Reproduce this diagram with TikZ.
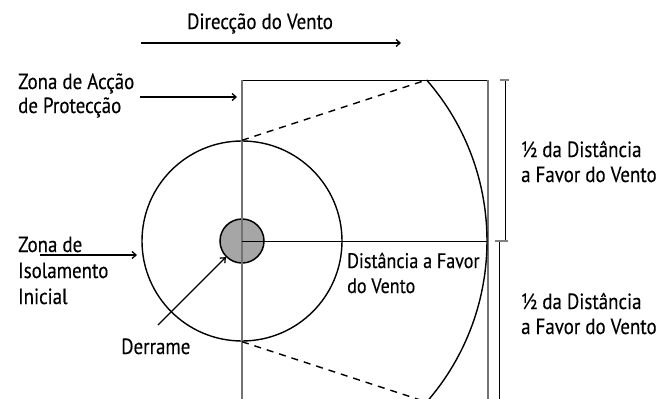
\documentclass[tikz,border=0pt]{standalone}
\usepackage{fontspec}
\setmainfont{PT Sans}[FakeStretch=0.86,FakeBold=0.25]
\usetikzlibrary{arrows.meta}
\begin{document}
\begin{tikzpicture}[x=1pt,y=-1pt,
  lbl/.style={anchor=base west,inner sep=0pt,font=\fontsize{22}{26}\selectfont},
  blk/.style={line width=1.4pt,black},
  thinblk/.style={line width=1pt,black},
  axis/.style={line width=1.4pt,black!55},
  arr/.style={line width=1.3pt,black,-{Straight Barb[length=4pt,width=7pt]}},
  dimln/.style={line width=1pt,black},
  tick/.style={line width=1.3pt,black!50},
]
\useasboundingbox (0,0) rectangle (662,399);
\begin{scope}
\clip (0,0) rectangle (662,399);
\coordinate (C) at (242,241);
% spill and isolation circle
\node[draw,circle,fill=black!35,minimum size=44pt,inner sep=0pt,line width=1.5pt] (spill) at (C) {};
\node[draw,circle,minimum size=200pt,inner sep=0pt,line width=1.4pt] (iso) at (C) {};
% protective action zone outline
\coordinate (rTL) at (242,80);
\coordinate (rTR) at (488,80);
\coordinate (rBL) at (242,410);
\coordinate (rBR) at (488,410);
\draw[thinblk] (rTL) -- (rTR);
\draw[axis] (rTL) -- (rBL);
\draw[axis] (rTR) -- (rBR);
% downwind arc
\path (C) ++(-41.1:245) coordinate (arcT);
\path (C) ++(41.1:245) coordinate (arcB);
\path (C) ++(0:245) coordinate (arcR);
\draw[blk] (arcT) arc[start angle=-41.1,end angle=41.1,radius=245];
\draw[thinblk] (C) -- (arcR);
\draw[blk,dash pattern=on 7pt off 6pt] (iso.north) -- (arcT);
\draw[blk,dash pattern=on 7pt off 6pt] (iso.south) -- (arcB);
% dimension lines
\coordinate (d1t) at (505,80);
\coordinate (d1b) at (505,241);
\coordinate (d2t) at (499,241);
\coordinate (d2b) at (499,410);
\draw[dimln] (d1t) -- (d1b);
\draw[dimln] (d2t) -- (d2b);
\draw[tick] ([xshift=-5pt]d1t) -- ([xshift=4pt]d1t);
\draw[tick] ([xshift=-10pt]d1b) -- ([xshift=3pt]d1b);
% arrows
\coordinate (w1) at (141,43);
\coordinate (w2) at (401,43);
\draw[arr] (w1) -- (w2);
\coordinate (p1) at (140,97);
\coordinate (p2) at (237,97);
\draw[arr] (p1) -- (p2);
\coordinate (i1) at (40,255);
\coordinate (i2) at (137,255);
\draw[arr] (i1) -- (i2);
\coordinate (s1) at (158,325);
\draw[arr] (s1) -- (spill.225);
\end{scope}
% labels
\node[lbl,anchor=base] (title) at (260,29) {Direcção do Vento};
\node[lbl] (pa1) at (18,89) {Zona de Acção};
\node[lbl] (pa2) at (18,113) {de Protecção};
\node[lbl] (ii1) at (18,252) {Zona de};
\node[lbl] (ii2) at (18,278) {Isolamento};
\node[lbl] (ii3) at (18,304) {Inicial};
\node[lbl] (der) at (121,354) {Derrame};
\node[lbl,font=\fontsize{21}{26}\selectfont] (dd1) at (347,268) {Distância a Favor};
\node[lbl,font=\fontsize{21}{26}\selectfont] (dd2) at (347,293) {do Vento};
\node[lbl] (h1a) at (521,157) {½ da Distância};
\node[lbl] (h1b) at (521,182) {a Favor do Vento};
\node[lbl] (h2a) at (521,309) {½ da Distância};
\node[lbl] (h2b) at (521,334) {a Favor do Vento};
\end{tikzpicture}
\end{document}
